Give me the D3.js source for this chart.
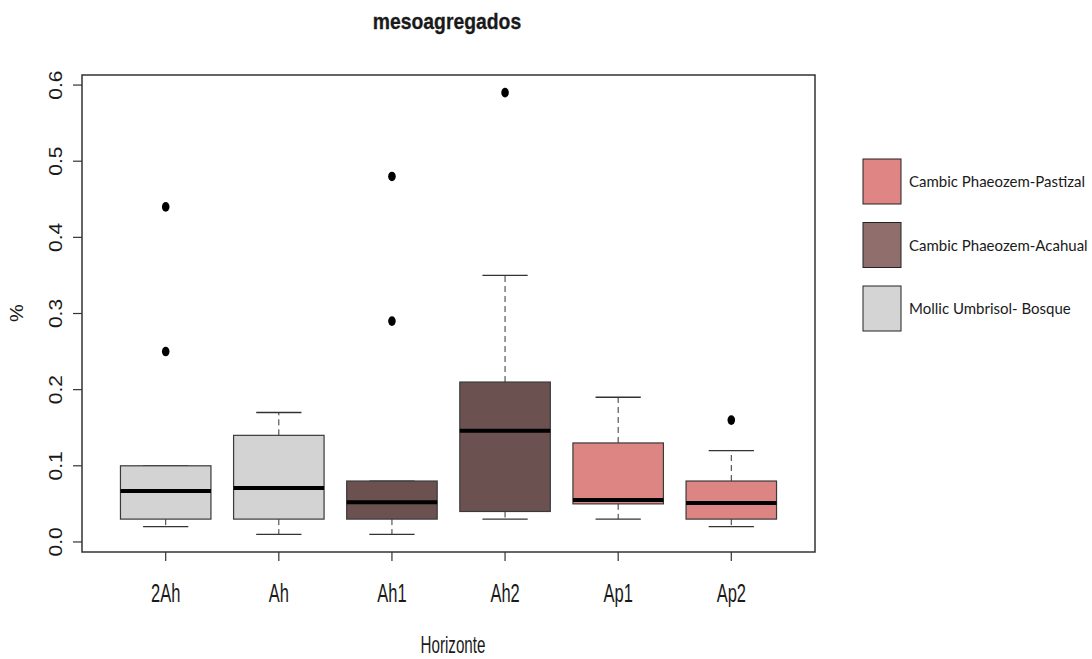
<!DOCTYPE html>
<html>
<head>
<meta charset="utf-8">
<script src="https://cdn.jsdelivr.net/npm/d3@7/dist/d3.min.js"></script>
<style>
  html, body { margin: 0; padding: 0; background: #ffffff; }
  svg { display: block; }
  text { font-family: "Liberation Sans", Arial, sans-serif; fill: #1a1a1a; }
  .legend text { font-family: Lato, "Open Sans", sans-serif; fill: #1a1a1a; }
</style>
</head>
<body>
<svg id="chart" width="1092" height="659"></svg>
<script>
// Horizons on the x axis
const horizons = ["2Ah", "Ah", "Ah1", "Ah2", "Ap1", "Ap2"];
// Soil / land-use group of each horizon
const groups = ["Mollic Umbrisol- Bosque", "Mollic Umbrisol- Bosque",
                "Cambic Phaeozem-Acahual", "Cambic Phaeozem-Acahual",
                "Cambic Phaeozem-Pastizal", "Cambic Phaeozem-Pastizal"];
// Five-number summaries per horizon (%)
const whiskerLow  = [0.02, 0.01, 0.01, 0.03, 0.03, 0.02];
const q1          = [0.03, 0.03, 0.03, 0.04, 0.05, 0.03];
const median      = [0.067, 0.071, 0.052, 0.146, 0.055, 0.051];
const q3          = [0.10, 0.14, 0.08, 0.21, 0.13, 0.08];
const whiskerHigh = [0.10, 0.17, 0.08, 0.35, 0.19, 0.12];
// Outlying observations per horizon
const outliers = [[0.25, 0.44], [], [0.29, 0.48], [0.59], [], [0.16]];
// Y axis ticks
const yTicks = [0.0, 0.1, 0.2, 0.3, 0.4, 0.5, 0.6];
// Legend entries and fill colours
const legendLabels = ["Cambic Phaeozem-Pastizal", "Cambic Phaeozem-Acahual", "Mollic Umbrisol- Bosque"];
const boxFill = {
  "Cambic Phaeozem-Pastizal": "#dd8583",
  "Cambic Phaeozem-Acahual": "#6b5251",
  "Mollic Umbrisol- Bosque": "#d3d3d3"
};
const legendFill = {
  "Cambic Phaeozem-Pastizal": "#df8583",
  "Cambic Phaeozem-Acahual": "#8f6e6c",
  "Mollic Umbrisol- Bosque": "#d4d4d4"
};

const svg = d3.select("#chart");
const frame = { left: 82, top: 75, right: 815, bottom: 552 };

// R-style ranges: 4% padding around data
const x = d3.scaleLinear().domain([0.26, horizons.length + 0.74]).range([frame.left, frame.right]);
const y = d3.scaleLinear().domain([-0.0132, 0.6132]).range([frame.bottom, frame.top]);

const boxHalf = x(1.4) - x(1);
const capHalf = x(1.2) - x(1);
const narrow = 0.66; // condensed axis lettering

// Title
svg.append("text")
  .attr("transform", `translate(447,29) scale(0.9,1)`)
  .attr("text-anchor", "middle")
  .attr("font-size", 21.5).attr("font-weight", "bold")
  .attr("stroke", "#1a1a1a").attr("stroke-width", 0.3)
  .text("mesoagregados");

// Boxes
const g = svg.append("g");
horizons.forEach((h, i) => {
  const cx = x(i + 1);
  const col = boxFill[groups[i]];
  // whiskers (dashed)
  if (whiskerHigh[i] > q3[i]) {
    g.append("line").attr("x1", cx).attr("x2", cx).attr("y1", y(q3[i])).attr("y2", y(whiskerHigh[i]))
      .attr("stroke", "#333").attr("stroke-width", 1).attr("stroke-dasharray", "6,4");
  }
  g.append("line").attr("x1", cx).attr("x2", cx).attr("y1", y(q1[i])).attr("y2", y(whiskerLow[i]))
    .attr("stroke", "#333").attr("stroke-width", 1).attr("stroke-dasharray", "6,4");
  // staples
  [whiskerLow[i], whiskerHigh[i]].forEach(v => {
    g.append("line").attr("x1", cx - capHalf).attr("x2", cx + capHalf).attr("y1", y(v)).attr("y2", y(v))
      .attr("stroke", "#333").attr("stroke-width", 1.3);
  });
  // box
  g.append("rect")
    .attr("x", cx - boxHalf).attr("y", y(q3[i]))
    .attr("width", 2 * boxHalf).attr("height", y(q1[i]) - y(q3[i]))
    .attr("fill", col).attr("stroke", "#3a3a3a").attr("stroke-width", 1.2);
  // median
  g.append("line").attr("x1", cx - boxHalf).attr("x2", cx + boxHalf)
    .attr("y1", y(median[i])).attr("y2", y(median[i]))
    .attr("stroke", "#000").attr("stroke-width", 4);
  // outliers
  outliers[i].forEach(v => {
    g.append("ellipse").attr("cx", cx).attr("cy", y(v)).attr("rx", 3.8).attr("ry", 4.8).attr("fill", "#000");
  });
});

// Frame
svg.append("rect")
  .attr("x", frame.left).attr("y", frame.top)
  .attr("width", frame.right - frame.left).attr("height", frame.bottom - frame.top)
  .attr("fill", "none").attr("stroke", "#333").attr("stroke-width", 1.5);

// Y axis
const yAxis = svg.append("g");
yTicks.forEach(t => {
  yAxis.append("line").attr("x1", frame.left - 9).attr("x2", frame.left).attr("y1", y(t)).attr("y2", y(t))
    .attr("stroke", "#333").attr("stroke-width", 1.2);
  yAxis.append("text")
    .attr("transform", `translate(62,${y(t)}) rotate(-90) scale(1,0.9)`)
    .attr("text-anchor", "middle").attr("font-size", 21)
    .text(t.toFixed(1));
});
svg.append("text")
  .attr("transform", `translate(23,313) rotate(-90) scale(1,0.9)`)
  .attr("text-anchor", "middle").attr("font-size", 20)
  .text("%");

// X axis
const xAxis = svg.append("g");
horizons.forEach((h, i) => {
  const cx = x(i + 1);
  xAxis.append("line").attr("x1", cx).attr("x2", cx).attr("y1", frame.bottom).attr("y2", frame.bottom + 9)
    .attr("stroke", "#333").attr("stroke-width", 1.2);
  xAxis.append("text")
    .attr("transform", `translate(${cx},602) scale(${narrow},1)`)
    .attr("text-anchor", "middle").attr("font-size", 25)
    .text(h);
});
svg.append("text")
  .attr("transform", `translate(453,653) scale(${narrow},1)`)
  .attr("text-anchor", "middle").attr("font-size", 23)
  .text("Horizonte");

// Legend
const legend = svg.append("g").attr("class", "legend");
const legendY = d3.scalePoint().domain(legendLabels).range([159, 286]);
legendLabels.forEach(l => {
  legend.append("rect").attr("x", 863).attr("y", legendY(l)).attr("width", 38).attr("height", 45)
    .attr("fill", legendFill[l]).attr("stroke", "#222").attr("stroke-width", 1);
  legend.append("text").attr("x", 909).attr("y", legendY(l) + 28)
    .attr("font-size", 15).text(l);
});
</script>
</body>
</html>
